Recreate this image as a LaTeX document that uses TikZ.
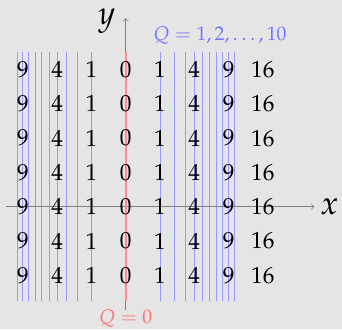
\documentclass[tikz,border=0pt]{standalone}
\usepackage[T1]{fontenc}
\usepackage{mathpazo}

\definecolor{bg}{RGB}{229,229,229}

\begin{document}
\begin{tikzpicture}[scale=0.7]

\useasboundingbox [fill=bg] (-3.666,-3.567) rectangle (6.308,6.03);

% level sets Q = x^2
\foreach \q in {1,...,10} {
  \draw [blue!40, line width=0.5pt] ({sqrt(\q)},-2.75) -- ({sqrt(\q)},4.5);
  \draw [blue!40, line width=0.5pt] ({0-sqrt(\q)},-2.75) -- ({0-sqrt(\q)},4.5);
}

\path (-3.5,0) coordinate(xl);
\path (5.5,0) coordinate(xr);
\path (0,-3) coordinate(yl);
\path (0,5.5) coordinate(yr);

\draw [->, gray] (xl)--(xr);
\draw [->, gray] (yl)--(yr);

\draw [red!45, line width=1.2pt] (0,-2.75)--(0,4.5);

\node (xlab) [right] at (xr) {\fontsize{19}{22}\selectfont $x$};
\node (ylab) at (-0.55,5.4) {\fontsize{19}{22}\selectfont $y$};
\node (qlab) [blue!55] at (2.75,5) {\fontsize{11.4}{14}\selectfont $Q = 1,2,\dots,10$};
\node (qzero) [red!55] at (0,-3.25) {\fontsize{11.4}{14}\selectfont $Q = 0$};

% values of x^2
\foreach \x [count=\i] in {-3,...,4}
  \foreach \y [count=\j] in {-2,...,4} {
    \pgfmathtruncatemacro\v{\x*\x}
    \node (v\i\j) at (\x,\y) {\fontsize{13.5}{16}\selectfont $\v$};
  }

\end{tikzpicture}
\end{document}
